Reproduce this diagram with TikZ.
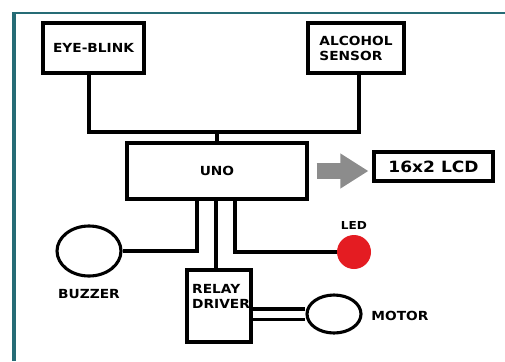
\documentclass[tikz,border=0pt]{standalone}
\usepackage{fontspec}
\newfontfamily\blockfont[FakeStretch=1.1]{DejaVu Sans}
\usetikzlibrary{calc, positioning}
\usetikzlibrary{shapes.geometric}
\usetikzlibrary{arrows.meta}
\definecolor{frameteal}{RGB}{38,108,118}
\definecolor{arrowgray}{RGB}{140,140,140}
\definecolor{ledred}{RGB}{228,28,34}

\begin{document}
\begin{tikzpicture}[x=1pt, y=-1pt,
  wire/.style={line width=3.1pt},
  blk/.style={draw, line width=3.1pt, rectangle, inner sep=0pt,
    font=\blockfont\bfseries\fontsize{12.5}{15}\selectfont},
  part/.style={draw, line width=3.1pt, ellipse, inner sep=0pt},
  lbl/.style={inner sep=0pt, font=\blockfont\bfseries\fontsize{12.5}{15}\selectfont},
  fatarrow/.style={arrowgray, line width=16pt, -{Triangle[length=28pt, width=33pt]}}]
\def\frametop{12}
\def\frameleft{12}

\useasboundingbox (0,0) rectangle (505,361);
\fill[white] (0,0) rectangle (505,361);

% frame
\fill[frameteal] (\frameleft,\frametop) rectangle (505,\frametop+2.5);
\fill[frameteal] (\frameleft,\frametop) rectangle (\frameleft+4,361);

% inputs
\node[blk, minimum width=101pt, minimum height=50pt] (eye) at (93.5,48) {EYE-BLINK};
\node[blk, minimum width=96pt, minimum height=50pt, align=left] (alc) at (356,48) {ALCOHOL\\SENSOR};
\coordinate (bus) at (217,132);

% controller and display
\node[blk, minimum width=180pt, minimum height=56pt] (uno) at (217,171) {UNO};
\node[blk, minimum width=119pt, minimum height=29pt,
  font=\blockfont\bfseries\fontsize{15.5}{17}\selectfont] (lcd) at (433.5,166.5) {16x2 LCD};

% outputs
\node[part, minimum width=64pt, minimum height=50pt] (buzzer) at (89,251) {};
\node[lbl] (buzzertxt) at (89,294) {BUZZER};
\node[circle, fill=ledred, minimum size=34pt, inner sep=0pt] (led) at (354,252) {};
\node[lbl, font=\blockfont\bfseries\fontsize{11}{12}\selectfont] (ledtxt) at (354,225) {LED};
\node[blk, minimum width=64pt, minimum height=72pt] (relay) at (219,306) {};
\node[lbl, anchor=north west, align=left] (relaytxt) at (192,284) {RELAY\\DRIVER};
\node[part, minimum width=54pt, minimum height=38pt] (motor) at (334,314) {};
\node[lbl] (motortxt) at (400,316) {MOTOR};

% wiring
\draw[wire] ([xshift=-4.5pt]eye.south) |- (bus) -| ([xshift=3pt]alc.south);
\draw[wire] (bus) -- (uno.north);
\draw[fatarrow, shorten <=8pt, shorten >=4pt] (uno.east) -- (uno.east -| lcd.west);
\draw[wire] ([xshift=-20pt]uno.south) |- (buzzer.east);
\draw[wire] ([xshift=-1pt]uno.south) -- ([xshift=-1pt]uno.south |- relay.north);
\draw[wire] ([xshift=18pt]uno.south) |- (led.west);
\draw[wire, double, double distance=7pt] (relay.east |- motor.west) -- (motor.west);
\end{tikzpicture}
\end{document}
